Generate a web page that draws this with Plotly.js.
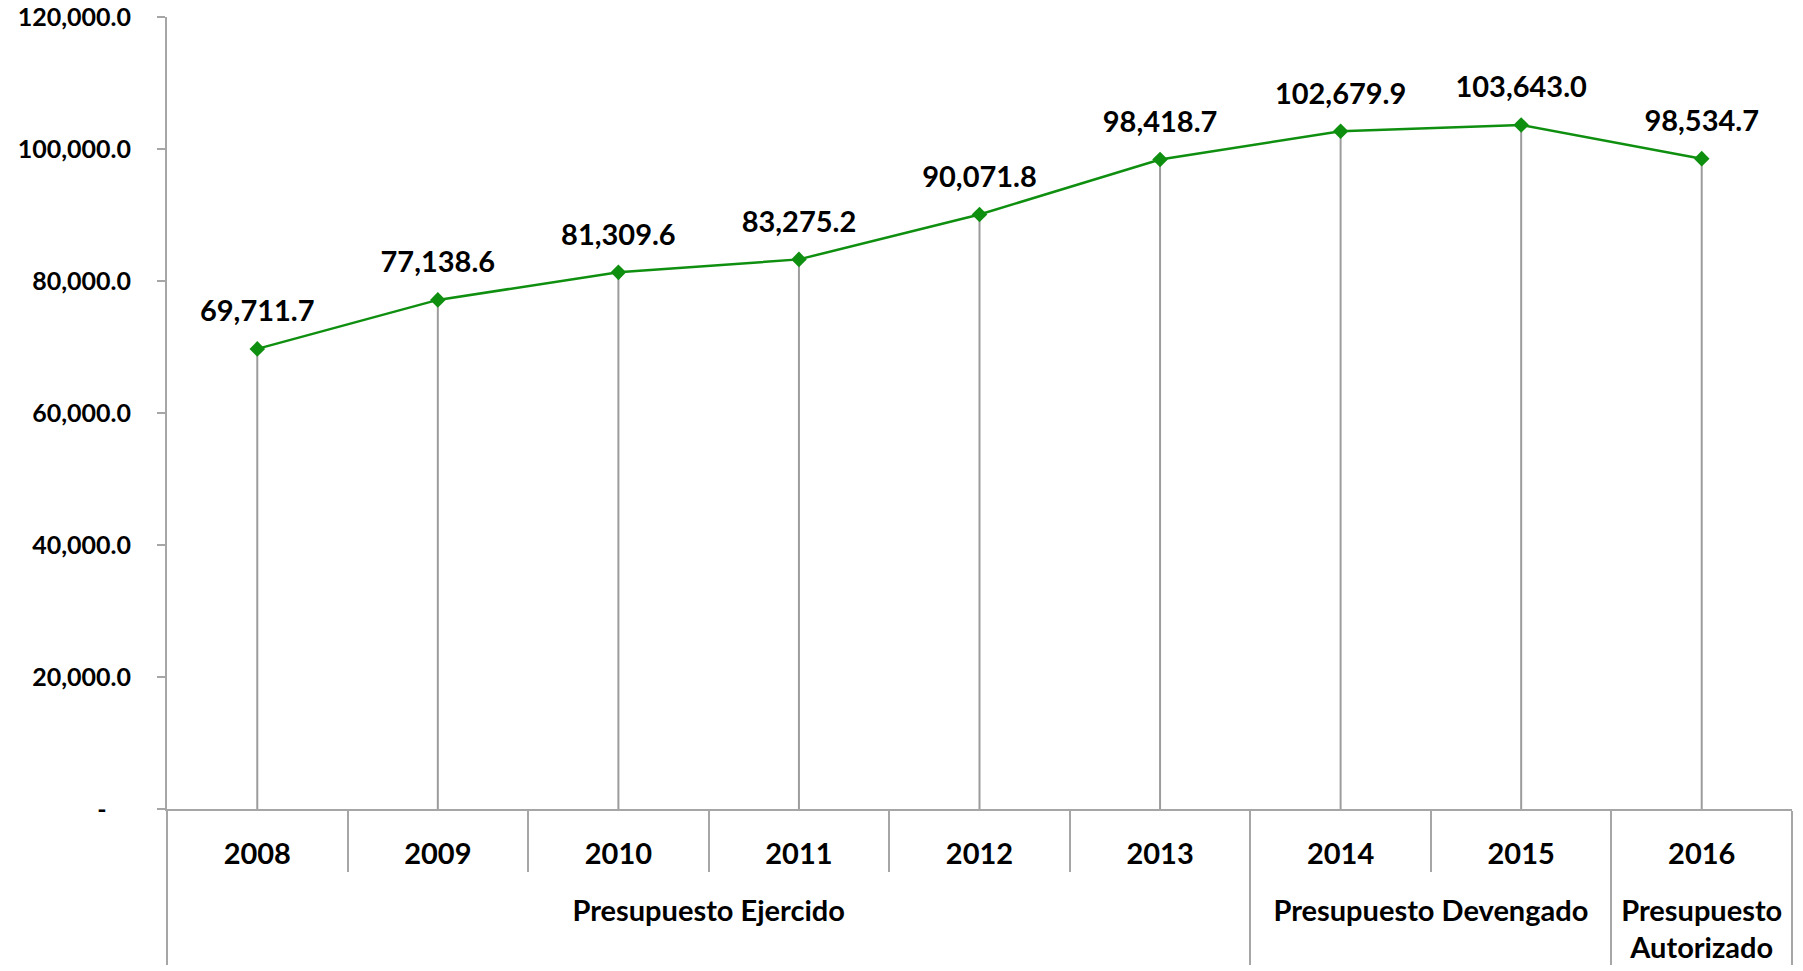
<!DOCTYPE html>
<html>
<head>
<meta charset="utf-8">
<script src="https://cdn.plot.ly/plotly-3.0.1.min.js"></script>
<style>
  html, body { margin: 0; padding: 0; background: #ffffff; }
  #chart { width: 1803px; height: 971px; }
</style>
</head>
<body>
<div id="chart"></div>
<script>
const years = ['2008', '2009', '2010', '2011', '2012', '2013', '2014', '2015', '2016'];
const groups = [
  'Presupuesto Ejercido', 'Presupuesto Ejercido', 'Presupuesto Ejercido',
  'Presupuesto Ejercido', 'Presupuesto Ejercido', 'Presupuesto Ejercido',
  'Presupuesto Devengado', 'Presupuesto Devengado',
  'Presupuesto<br>Autorizado'
];
const values = [69711.7, 77138.6, 81309.6, 83275.2, 90071.8, 98418.7, 102679.9, 103643.0, 98534.7];
const yTickVals = [0, 20000, 40000, 60000, 80000, 100000, 120000];
const yTickText = ['-\u00a0\u00a0\u00a0\u00a0', '20,000.0', '40,000.0', '60,000.0', '80,000.0', '100,000.0', '120,000.0'];

const FONT = 'Lato, "Open Sans", sans-serif';
const GREEN = '#0f8f0f';
const GREY = '#a6a6a6';

// leading blank line pushes the group row down, as in the reference
const groupLabels = groups.map(g => '\u00a0<br>' + g);
const xCats = [groupLabels, years];

const lineTrace = {
  type: 'scatter',
  mode: 'lines+markers',
  x: xCats,
  y: values,
  line: { color: GREEN, width: 2.5 },
  marker: { symbol: 'diamond', size: 12, color: GREEN },
  error_y: {
    type: 'data',
    symmetric: false,
    array: values.map(() => 0),
    arrayminus: values,
    width: 0,
    thickness: 2,
    color: '#9c9c9c'
  },
  hoverinfo: 'skip',
  showlegend: false,
  cliponaxis: false
};

const labelTrace = {
  type: 'scatter',
  mode: 'markers+text',
  x: xCats,
  y: values,
  marker: { size: 31, color: 'rgba(0,0,0,0)' },
  texttemplate: '%{y:,.1f}',
  textposition: 'top center',
  textfont: { family: FONT, size: 29, color: '#000000', weight: 700 },
  hoverinfo: 'skip',
  showlegend: false,
  cliponaxis: false
};

const layout = {
  width: 1803,
  height: 971,
  margin: { l: 167, r: 11, t: 17, b: 162 },
  paper_bgcolor: '#ffffff',
  plot_bgcolor: '#ffffff',
  showlegend: false,
  xaxis: {
    type: 'multicategory',
    range: [-0.5, 8.5],
    autorange: false,
    showline: true,
    linecolor: GREY,
    linewidth: 2,
    ticks: 'outside',
    tickson: 'boundaries',
    ticklen: 61,
    tickwidth: 2,
    tickcolor: GREY,
    ticklabelstandoff: 18,
    showdividers: true,
    dividercolor: GREY,
    dividerwidth: 2,
    showgrid: false,
    zeroline: false,
    tickfont: { family: FONT, size: 29, color: '#000000', weight: 700 }
  },
  yaxis: {
    range: [0, 120000],
    autorange: false,
    tickvals: yTickVals,
    ticktext: yTickText,
    showline: true,
    linecolor: GREY,
    linewidth: 2,
    ticks: 'outside',
    ticklen: 8,
    tickwidth: 2,
    tickcolor: GREY,
    ticklabelstandoff: 21,
    showgrid: false,
    zeroline: false,
    tickfont: { family: FONT, size: 25, color: '#000000', weight: 700 }
  }
};

Plotly.newPlot('chart', [lineTrace, labelTrace], layout, { displayModeBar: false, staticPlot: true });
</script>
</body>
</html>
